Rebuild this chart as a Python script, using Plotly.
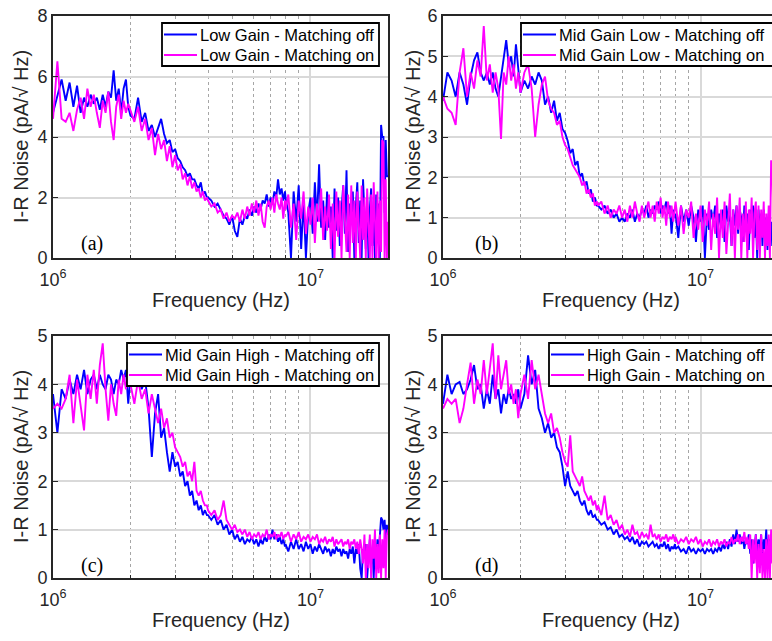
import math
import plotly.graph_objects as go

# ---------------- data ----------------
freq_mhz = [
    1.00, 1.04, 1.08, 1.12, 1.16, 1.20, 1.24, 1.28, 1.32, 1.36, 1.40, 1.44, 1.48, 1.52, 1.56, 1.60, 1.64, 1.68, 1.72, 1.76, 1.80, 1.84, 1.88, 1.92, 1.96,
    2.00, 2.07, 2.14, 2.21, 2.28, 2.35, 2.42, 2.49, 2.56, 2.63, 2.70, 2.77, 2.84, 2.91, 2.98, 3.05, 3.12, 3.19, 3.26, 3.33, 3.40, 3.47, 3.54, 3.61, 3.68, 3.75, 3.82, 3.89, 3.96,
    4.00, 4.12, 4.24, 4.36, 4.48, 4.60, 4.72, 4.84, 4.96, 5.08, 5.20, 5.32, 5.44, 5.56, 5.68, 5.80, 5.92, 6.04, 6.16, 6.28, 6.40, 6.52, 6.64, 6.76, 6.88, 7.00, 7.12, 7.24, 7.36, 7.48, 7.60, 7.72, 7.84, 7.96,
    8.0, 8.2, 8.4, 8.6, 8.8, 9.0, 9.2, 9.4, 9.6, 9.8, 10.0, 10.2, 10.4, 10.6, 10.8, 11.0, 11.2, 11.4, 11.6, 11.8, 12.0, 12.2, 12.4, 12.6, 12.8, 13.0, 13.2, 13.4, 13.6, 13.8,
    14.0, 14.2, 14.4, 14.6, 14.8, 15.0, 15.2, 15.4, 15.6, 15.8, 16.0, 16.2, 16.4, 16.6, 16.8, 17.0, 17.2, 17.4, 17.6, 17.8, 18.0, 18.2, 18.4, 18.6, 18.8, 19.0, 19.2, 19.4, 19.6, 19.8, 20.0,
]

# (a) Low Gain
low_off = [
    4.8, 5.4, 5.9, 5.2, 5.8, 5.0, 5.7, 4.8, 5.3, 5.0, 5.4, 5.1, 5.3, 4.9, 5.4, 5.0, 5.5, 5.3, 6.2, 5.2, 5.6, 4.8, 5.6, 5.9, 5.0,
    4.7, 4.6, 5.3, 4.5, 4.8, 4.2, 4.4, 4.0, 4.3, 4.6, 4.1, 3.8, 3.9, 3.5, 3.6, 3.3, 3.2, 3.0, 2.9, 2.7, 2.8, 2.6, 2.6, 2.4, 2.3, 2.5, 2.1, 2.2, 2.0,
    2.0, 1.9, 1.7, 1.8, 1.6, 1.4, 1.3, 1.1, 1.4, 0.9, 0.7, 1.3, 1.1, 1.4, 1.3, 1.6, 1.4, 1.7, 1.5, 1.8, 1.6, 1.9, 1.8, 2.1, 1.7, 2.0, 1.8, 2.2, 2.0, 2.6, 2.1, 2.3, 1.9, 2.2,
    2.0, 1.5, 0.0, 2.2, 1.2, 2.4, 0.3, 1.9, 0.0, 1.5, 2.0, 0.8, 2.5, 1.2, 3.1, 1.0, 1.9, 0.6, 2.2, 1.0, 1.7, 0.0, 2.3, 0.9, 2.0, 0.4, 1.6, 2.4, 0.8, 2.9,
    0.2, 1.8, 1.1, 2.2, 0.0, 1.7, 2.5, 0.5, 1.9, 0.0, 2.6, 1.2, 0.3, 2.0, 0.0, 1.6, 2.3, 0.4, 1.4, 0.0, 2.1, 0.8, 1.8, 0.0, 4.4, 4.0, 4.0, 1.5, 3.9, 2.7, 2.7,
]
low_on = [
    4.6, 6.5, 4.6, 4.5, 4.8, 4.2, 4.9, 5.3, 4.6, 5.6, 5.0, 5.4, 4.8, 4.3, 5.2, 4.8, 5.5, 4.5, 3.9, 5.0, 5.4, 4.6, 5.2, 4.8, 5.1,
    4.9, 4.5, 5.0, 4.2, 4.6, 3.9, 4.3, 3.4, 4.1, 3.6, 3.9, 3.2, 3.7, 3.0, 3.4, 2.9, 3.1, 2.6, 2.8, 2.4, 2.7, 2.3, 2.5, 2.2, 2.3, 2.0, 2.2, 1.9, 2.0,
    1.9, 1.7, 1.8, 1.5, 1.6, 1.3, 1.5, 1.2, 1.4, 1.3, 1.5, 1.2, 1.6, 1.3, 1.7, 1.4, 1.8, 1.5, 1.9, 1.4, 1.8, 1.2, 1.0, 1.7, 1.9, 1.6, 2.0, 1.5, 2.1, 1.8, 1.6, 2.0, 1.3, 1.9,
    1.6, 2.1, 1.0, 1.8, 0.6, 1.9, 1.3, 2.2, 0.8, 1.7, 1.1, 2.0, 0.5, 1.8, 1.2, 2.3, 0.6, 1.7, 0.9, 2.1, 0.3, 1.8, 0.0, 2.2, 0.7, 1.9, 0.0, 2.4, 1.0, 0.2,
    2.1, 0.0, 2.4, 0.5, 1.9, 0.0, 2.2, 1.3, 0.0, 2.4, 0.6, 2.0, 0.0, 2.3, 1.1, 0.0, 2.1, 0.0, 2.5, 0.8, 0.0, 2.2, 0.0, 1.9, 0.2, 3.9, 3.8, 0.0, 2.6, 0.0, 1.2,
]

# (b) Mid Gain Low
midlow_off = [
    3.9, 4.6, 4.4, 4.0, 4.6, 4.3, 3.8, 4.5, 4.9, 5.1, 4.6, 4.4, 4.6, 4.3, 4.6, 4.2, 4.0, 4.5, 4.9, 5.4, 4.8, 5.0, 4.5, 5.3, 4.7,
    4.1, 4.4, 4.2, 4.5, 4.3, 4.6, 4.4, 3.8, 4.0, 3.6, 3.9, 3.4, 3.6, 3.2, 3.1, 2.9, 2.6, 2.7, 2.3, 2.4, 2.0, 2.1, 1.8, 1.9, 1.6, 1.7, 1.4, 1.5, 1.3,
    1.3, 1.2, 1.3, 1.1, 1.2, 1.0, 1.1, 0.9, 1.0, 0.9, 1.1, 1.0, 1.2, 0.9, 1.1, 1.0, 1.2, 1.1, 1.3, 1.0, 1.2, 1.1, 1.3, 1.2, 1.4, 1.1, 1.3, 1.2, 1.4, 1.1, 1.3, 0.6, 1.2, 1.0,
    1.1, 0.5, 1.3, 0.9, 1.2, 0.8, 1.3, 1.0, 0.4, 1.2, 0.9, 1.3, 0.0, 1.1, 0.7, 1.2, 0.9, 1.3, 0.5, 1.1, 0.8, 1.2, 0.4, 1.3, 0.9, 1.1, 0.3, 1.2, 0.8, 1.3,
    0.6, 1.2, 1.0, 0.4, 1.3, 0.9, 1.1, 0.2, 1.2, 0.8, 1.3, 0.5, 1.1, 0.0, 1.2, 0.7, 1.1, 0.3, 1.2, 0.6, 1.0, 0.2, 1.1, 0.5, 0.9, 0.3, 1.0, 0.6, 0.9, 0.4, 0.8,
]
midlow_on = [
    4.0, 3.7, 3.6, 3.3, 4.6, 5.2, 4.0, 4.6, 4.2, 4.9, 4.5, 5.75, 4.4, 4.8, 4.1, 4.6, 4.2, 2.95, 4.6, 4.3, 5.0, 4.4, 4.8, 4.2, 4.6,
    4.1, 4.6, 4.8, 4.2, 3.0, 3.8, 4.3, 4.5, 3.9, 3.7, 3.6, 3.3, 3.4, 3.0, 2.8, 2.7, 2.5, 2.3, 2.2, 2.1, 2.0, 1.8, 1.9, 1.6, 1.7, 1.5, 1.6, 1.3, 1.4,
    1.3, 1.4, 1.1, 1.3, 1.0, 1.2, 1.1, 1.3, 1.0, 1.2, 0.9, 1.3, 1.0, 1.4, 1.1, 0.9, 1.3, 1.0, 1.2, 1.4, 1.0, 1.3, 0.9, 1.4, 1.1, 1.5, 1.0, 1.3, 0.8, 1.4, 1.0, 1.3, 0.9, 1.2,
    1.4, 0.8, 1.3, 0.6, 1.2, 1.0, 1.4, 0.5, 1.1, 0.7, 1.3, 0.4, 1.2, 0.8, 1.4, 0.2, 1.1, 0.6, 1.5, 0.0, 1.2, 0.5, 1.4, 0.1, 1.0, 1.6, 0.3, 1.2, 0.0, 1.3,
    0.7, 1.5, 0.0, 1.1, 0.4, 1.4, 0.0, 1.2, 0.6, 1.5, 0.0, 1.1, 1.4, 0.2, 1.3, 0.0, 1.2, 0.5, 1.4, 0.0, 1.1, 0.3, 1.3, 0.0, 2.4, 2.4, 0.8, 1.2, 0.0, 1.0, 0.6,
]

# (c) Mid Gain High
midhigh_off = [
    3.8, 3.0, 3.9, 3.7, 4.1, 3.8, 4.2, 3.9, 4.3, 3.8, 4.1, 4.2, 3.9, 4.2, 4.0, 3.9, 4.2, 4.1, 3.8, 4.1, 4.0, 4.3, 4.1, 4.3, 3.6,
    4.2, 4.0, 4.3, 3.9, 4.1, 3.5, 2.5, 3.4, 3.8, 2.9, 3.1, 2.6, 2.2, 2.6, 2.3, 2.4, 2.1, 2.2, 1.9, 2.0, 1.7, 1.8, 1.5, 1.6, 1.4, 1.5, 1.3, 1.4, 1.3,
    1.3, 1.2, 1.3, 1.1, 1.2, 1.0, 1.1, 0.9, 1.0, 0.8, 0.9, 0.75, 0.85, 0.7, 0.8, 0.75, 0.85, 0.7, 0.8, 0.65, 0.8, 0.7, 0.85, 0.75, 0.9, 0.8, 1.0, 0.8, 0.9, 0.75, 0.85, 0.7, 0.8, 0.65,
    0.7, 0.55, 0.75, 0.6, 0.8, 0.6, 0.7, 0.55, 0.75, 0.6, 0.7, 0.5, 0.65, 0.55, 0.7, 0.6, 0.5, 0.65, 0.55, 0.6, 0.45, 0.6, 0.5, 0.65, 0.55, 0.6, 0.45, 0.6, 0.5, 0.55,
    0.4, 0.6, 0.5, 0.65, 0.3, 0.6, 0.5, 0.7, 0.2, 0.0, 0.6, 0.4, 0.7, 0.0, 0.5, 0.8, 0.3, 0.6, 0.0, 0.7, 0.4, 0.8, 0.5, 1.0, 1.25, 1.2, 1.0, 1.2, 0.8, 1.1, 0.9,
]
midhigh_on = [
    3.5, 3.6, 3.5, 3.7, 4.2, 3.2, 4.1, 3.6, 3.05, 4.2, 3.7, 4.3, 3.6, 4.4, 4.85, 3.9, 3.25, 4.0, 3.6, 3.35, 4.1, 3.8, 4.2, 3.9, 4.3,
    4.0, 3.6, 4.1, 3.7, 3.9, 3.4, 3.8, 3.5, 3.2, 3.5, 3.1, 3.3, 2.9, 3.0, 2.7, 2.6, 2.5, 2.3, 2.4, 2.1, 2.2, 2.0, 2.4, 1.8, 1.7, 1.8, 1.6, 1.5, 1.5,
    1.4, 1.3, 1.4, 1.2, 1.3, 1.6, 1.2, 1.1, 1.0, 1.1, 0.95, 1.0, 0.9, 1.0, 0.85, 0.95, 0.8, 0.9, 0.85, 0.95, 0.8, 0.9, 0.85, 1.0, 0.8, 0.9, 0.85, 0.95, 0.8, 0.9, 0.85, 0.95, 0.8, 0.9,
    0.85, 0.95, 0.75, 0.9, 0.8, 0.95, 0.75, 0.85, 0.8, 0.9, 0.75, 0.85, 0.8, 0.9, 0.7, 0.8, 0.75, 0.85, 0.7, 0.8, 0.75, 0.85, 0.65, 0.8, 0.7, 0.75, 0.8, 0.65, 0.75, 0.7,
    0.8, 0.6, 0.75, 0.7, 0.8, 0.6, 0.75, 0.5, 0.8, 0.6, 0.3, 0.9, 0.0, 0.7, 0.2, 0.9, 0.0, 0.8, 0.4, 1.0, 0.0, 0.7, 0.1, 0.9, 0.0, 0.8, 0.2, 1.0, 0.0, 0.9, 1.0,
]

# (d) High Gain
high_off = [
    3.6, 4.2, 3.8, 4.0, 4.05, 3.8, 3.9, 4.1, 4.4, 3.9, 4.0, 3.5, 3.9, 3.6, 4.2, 3.7, 3.9, 3.4, 3.8, 3.6, 3.9, 3.7, 3.8, 3.6, 3.9,
    3.5, 3.8, 4.6, 4.0, 4.3, 3.5, 3.3, 3.0, 3.2, 2.9, 3.0, 2.7, 2.6, 2.3, 1.9, 2.2, 1.9, 1.8, 1.7, 1.8, 1.6, 1.5, 1.6, 1.4, 1.3, 1.4, 1.25, 1.3, 1.2,
    1.2, 1.1, 1.15, 1.0, 1.05, 0.9, 1.0, 0.85, 0.9, 0.8, 0.85, 0.75, 0.85, 0.7, 0.8, 0.65, 0.75, 0.7, 0.75, 0.65, 0.7, 0.75, 0.65, 0.7, 0.6, 0.7, 0.65, 0.75, 0.6, 0.7, 0.55, 0.65, 0.6, 0.7,
    0.6, 0.65, 0.55, 0.6, 0.5, 0.65, 0.55, 0.6, 0.5, 0.6, 0.55, 0.6, 0.5, 0.6, 0.55, 0.6, 0.5, 0.6, 0.55, 0.65, 0.55, 0.7, 0.6, 0.75, 0.6, 0.8, 0.65, 0.9, 0.7, 1.0,
    0.75, 0.9, 0.7, 0.85, 0.6, 0.8, 0.7, 0.9, 0.5, 0.8, 0.3, 0.7, 0.9, 0.5, 0.8, 0.6, 0.9, 0.4, 0.8, 0.6, 1.0, 0.5, 0.8, 0.6, 0.9, 0.7, 0.8, 0.6, 0.9, 0.7, 0.8,
]
high_on = [
    3.5, 3.7, 3.6, 3.7, 3.2, 3.5, 4.0, 4.45, 3.6, 4.1, 3.8, 4.5, 3.8, 4.3, 4.85, 3.7, 4.6, 3.9, 4.2, 4.5, 3.8, 4.0, 3.6, 3.9, 3.3,
    3.8, 4.2, 3.7, 4.5, 3.9, 4.2, 3.8, 3.4, 3.2, 3.4, 3.0, 3.1, 2.9, 2.6, 2.4, 2.3, 2.95, 2.2, 2.1, 2.0, 1.9, 2.1, 1.8, 1.7, 1.6, 1.7, 1.5, 1.6, 1.4,
    1.5, 1.3, 1.7, 1.2, 1.3, 1.1, 1.2, 1.0, 1.1, 0.9, 1.0, 0.85, 1.1, 0.9, 0.95, 0.8, 0.95, 0.85, 0.9, 0.8, 1.1, 0.85, 0.9, 0.8, 0.9, 0.75, 0.85, 0.8, 0.9, 0.75, 0.85, 0.8, 0.9, 0.75,
    0.85, 0.7, 0.8, 0.75, 0.85, 0.7, 0.8, 0.75, 0.85, 0.7, 0.8, 0.65, 0.75, 0.7, 0.8, 0.65, 0.75, 0.7, 0.8, 0.65, 0.75, 0.7, 0.8, 0.65, 0.75, 0.7, 0.85, 0.7, 0.8, 0.75,
    0.9, 0.7, 0.85, 0.75, 0.95, 0.7, 0.85, 0.6, 0.9, 0.0, 0.8, 0.3, 0.9, 0.0, 0.7, 0.1, 0.9, 0.0, 0.6, 0.0, 0.8, 0.0, 0.9, 0.0, 1.0, 0.3, 0.9, 0.0, 0.8, 0.2, 0.9,
]

gain_names = ["Low Gain", "Mid Gain Low", "Mid Gain High", "High Gain"]
panel_labels = ["(a)", "(b)", "(c)", "(d)"]
y_max = [8, 6, 5, 5]
y_step = [2, 1, 1, 1]
x_tick_vals = [1e6, 1e7]
x_tick_text = ["10<sup>6</sup>", "10<sup>7</sup>"]
x_minor_vals = [2e6, 3e6, 4e6, 5e6, 6e6, 7e6, 8e6, 9e6]
series = [(low_off, low_on), (midlow_off, midlow_on), (midhigh_off, midhigh_on), (high_off, high_on)]

for s_off, s_on in series:
    assert len(s_off) == len(freq_mhz) and len(s_on) == len(freq_mhz)

freq_hz = [f * 1e6 for f in freq_mhz]

# ---------------- layout geometry (pixels) ----------------
W, H = 772, 641
DECADE = 257.5
boxes = [  # left, right, top, bottom
    (53, 388, 16, 258),
    (443, 772, 16, 258),
    (53, 388, 336, 578),
    (443, 772, 336, 578),
]
legend_box = [(162, 379, 23, 66), (521, 790, 23, 66), (127, 379, 343, 386), (549, 790, 343, 386)]
label_pos = [(92, 243), (486, 243), (92, 565), (486, 565)]
ytitle_x = [21, 413, 21, 413]
xtitle_y = [300, 300, 620, 620]

FONT = "Liberation Sans"
AX = "#262626"
BLUE = "#0000ff"
MAG = "#ff00ff"
LW = 1.9

fig = go.Figure()
annotations = []
shapes = []
layout = {}


def px(x):
    return x / W


def py(y):
    return 1 - y / H


for i in range(4):
    k = "" if i == 0 else str(i + 1)
    s_off, s_on = series[i]
    names = [gain_names[i] + " - Matching off", gain_names[i] + " - Matching on"]
    fig.add_trace(go.Scatter(x=freq_hz, y=s_off, mode="lines",
                             line=dict(color=BLUE, width=LW), name=names[0],
                             xaxis="x" + k, yaxis="y" + k, showlegend=False))
    fig.add_trace(go.Scatter(x=freq_hz, y=s_on, mode="lines",
                             line=dict(color=MAG, width=LW), name=names[1],
                             xaxis="x" + k, yaxis="y" + k, showlegend=False))
    l, r, t, b = boxes[i]
    right_panel = (i % 2 == 1)
    x_hi = 6 + (r - l) / DECADE if right_panel else math.log10(2e7)
    layout["xaxis" + k] = dict(
        domain=[px(l), px(r)], anchor="y" + k, type="log", range=[6, x_hi],
        automargin=False,
        tickmode="array", tickvals=x_tick_vals, ticktext=x_tick_text,
        showline=True, linecolor=AX, linewidth=1.8, mirror=True,
        ticks="inside", ticklen=5, tickcolor=AX, ticklabelstandoff=4,
        showgrid=True, gridcolor="#d9d9d9", gridwidth=1.5, zeroline=False,
        tickfont=dict(family=FONT, size=18, color=AX),
        minor=dict(tickmode="array", tickvals=x_minor_vals, showgrid=True,
                   griddash="dot", gridcolor="#a6a6a6", gridwidth=1,
                   ticks="inside", ticklen=3, tickcolor=AX),
    )
    layout["yaxis" + k] = dict(
        domain=[py(b), py(t)], anchor="x" + k, range=[0, y_max[i]],
        automargin=False,
        tick0=0, dtick=y_step[i],
        showline=True, linecolor=AX, linewidth=1.8, mirror=not right_panel,
        ticks="inside", ticklen=5, tickcolor=AX,
        showgrid=True, gridcolor="#d9d9d9", gridwidth=1.5, zeroline=False,
        tickfont=dict(family=FONT, size=18, color=AX),
    )
    # legend box drawn by hand (box, line samples, texts)
    bl, br, bt, bb = legend_box[i]
    shapes.append(dict(type="rect", xref="paper", yref="paper",
                       x0=px(bl), x1=px(br), y0=py(bb), y1=py(bt),
                       fillcolor="white", line=dict(color="#000000", width=1.8), layer="above"))
    row_y = [bt + 11.5, bt + 32]
    for j, col in enumerate([BLUE, MAG]):
        shapes.append(dict(type="line", xref="paper", yref="paper",
                           x0=px(bl + 2), x1=px(bl + 35), y0=py(row_y[j]), y1=py(row_y[j]),
                           line=dict(color=col, width=2), layer="above"))
        annotations.append(dict(text=names[j], x=px(bl + 36), y=py(row_y[j]),
                                xref="paper", yref="paper", showarrow=False,
                                xanchor="left", yanchor="middle",
                                font=dict(family=FONT, size=16.5, color="#000000")))
    # panel label
    lx, ly = label_pos[i]
    annotations.append(dict(text=panel_labels[i], x=px(lx), y=py(ly),
                            xref="paper", yref="paper", showarrow=False,
                            xanchor="center", yanchor="middle",
                            font=dict(family="Liberation Serif", size=20, color="#000000")))
    # y title
    annotations.append(dict(text="I-R Noise (pA/\u221a Hz)", x=px(ytitle_x[i]),
                            y=py((t + b) / 2), xref="paper", yref="paper",
                            showarrow=False, textangle=-90,
                            xanchor="center", yanchor="middle",
                            font=dict(family=FONT, size=20, color=AX)))
    # x title
    xc = l + 335 / 2
    annotations.append(dict(text="Frequency (Hz)", x=px(xc), y=py(xtitle_y[i]),
                            xref="paper", yref="paper", showarrow=False,
                            xanchor="center", yanchor="middle",
                            font=dict(family=FONT, size=20, color=AX)))

fig.update_layout(
    width=W, height=H, margin=dict(l=0, r=0, t=0, b=0, autoexpand=False),
    paper_bgcolor="white", plot_bgcolor="white", showlegend=False,
    annotations=annotations, shapes=shapes, **layout,
)

fig.write_html(
    "out.html",
    config={"displayModeBar": False},
    post_script="document.body.style.margin='0px';document.body.style.overflow='hidden';",
)
